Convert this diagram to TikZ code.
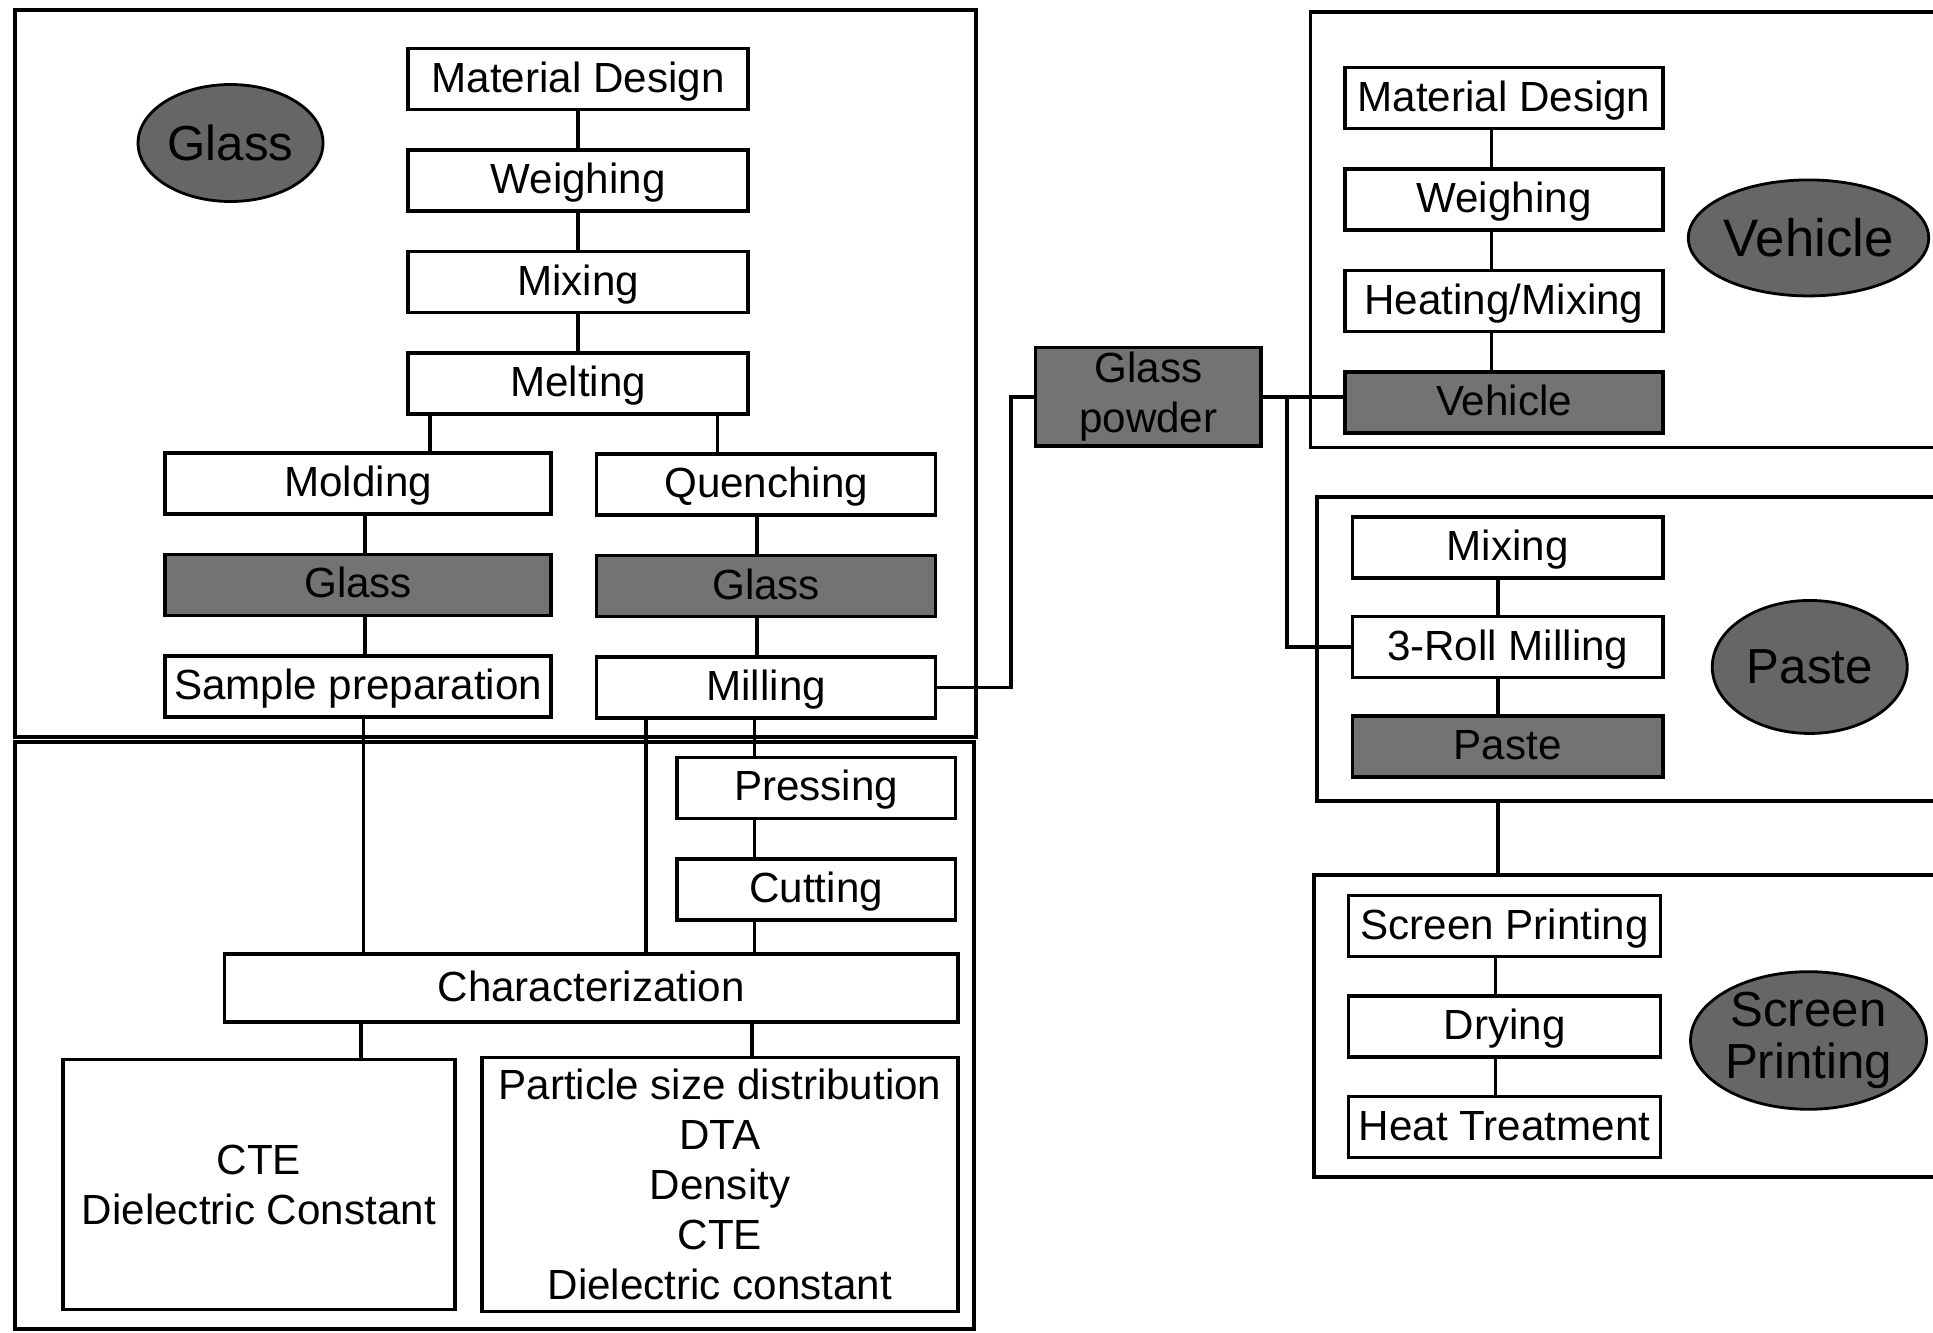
\documentclass[tikz,border=0pt]{standalone}
\usepackage{fontspec}
\setmainfont{Liberation Sans}
\usetikzlibrary{shapes.geometric,positioning}

\begin{document}
\begin{tikzpicture}[
  x=0.024656cm, y=-0.024656cm,
  node distance=0.74cm,
  box/.style={rectangle, draw, line width=2pt, fill=white,
    minimum height=1.22cm, inner xsep=2pt, inner ysep=0pt,
    align=center, font=\fontsize{24}{28.5}\selectfont},
  stepbox/.style={box, text height=17pt, text depth=2pt},
  darkbox/.style={stepbox, fill=black!55},
  tag/.style={ellipse, draw, line width=1.6pt, fill=black!60, inner sep=0pt,
    align=center, font=\fontsize{28}{30}\selectfont},
  frame/.style={line width=2.2pt},
  link/.style={line width=2pt},
]
  \useasboundingbox (0,0) rectangle (1568,1081);

  % Frames
  \draw[frame] (12,8) rectangle (792,598);
  \draw[frame] (12,602) rectangle (790,1078);
  \draw[frame] (1568,10) -| (1063,363) -- (1568,363);
  \draw[frame] (1568,403) -| (1068,650) -- (1568,650);
  \draw[frame] (1568,710) -| (1066,955) -- (1568,955);

  % Glass making
  \node[tag, minimum width=3.70cm, minimum height=2.34cm] (gtag) at (187,116) {Glass};
  \node[stepbox, minimum width=6.80cm] (md) at (469,64) {Material Design};
  \node[stepbox, minimum width=6.80cm, below=of md] (wg) {Weighing};
  \node[stepbox, minimum width=6.80cm, below=of wg] (mx) {Mixing};
  \node[stepbox, minimum width=6.80cm, below=of mx] (mt) {Melting};
  \node[stepbox, minimum width=7.72cm] (mold) at (290.5,392) {Molding};
  \node[stepbox, minimum width=6.78cm] (quen) at (621.5,393) {Quenching};
  \node[darkbox, minimum width=7.72cm, below=of mold] (gl1) {Glass};
  \node[darkbox, minimum width=6.78cm, below=of quen] (gl2) {Glass};
  \node[stepbox, minimum width=7.72cm, below=of gl1] (sp) {Sample preparation};
  \node[stepbox, minimum width=6.78cm, below=of gl2] (mill) {Milling};

  % Characterization
  \node[stepbox, minimum width=5.57cm] (press) at (662,639) {Pressing};
  \node[stepbox, minimum width=5.57cm, below=of press] (cut) {Cutting};
  \node[stepbox, minimum width=14.67cm, minimum height=1.36cm] (char) at (479.5,801.5) {Characterization};
  \node[box, minimum width=7.84cm, minimum height=5.0cm] (res1) at (210,961)
    {CTE\\Dielectric Constant};
  \node[box, minimum width=9.52cm, minimum height=5.08cm] (res2) at (584,961)
    {Particle size distribution\\DTA\\Density\\CTE\\Dielectric constant};

  % Glass powder
  \node[box, fill=black!55, minimum width=4.51cm, minimum height=1.97cm] (gp) at (931.5,322) {Glass\\powder};

  % Vehicle
  \node[tag, minimum width=4.49cm, minimum height=2.32cm, font=\fontsize{30}{32}\selectfont] (vtag) at (1467,193) {Vehicle};
  \node[stepbox, minimum width=6.36cm] (vmd) at (1220,79.5) {Material Design};
  \node[stepbox, minimum width=6.36cm, below=of vmd] (vwg) {Weighing};
  \node[stepbox, minimum width=6.36cm, below=of vwg] (vhm) {Heating/Mixing};
  \node[darkbox, minimum width=6.36cm, below=of vhm] (veh) {Vehicle};

  % Paste
  \node[tag, minimum width=3.90cm, minimum height=2.66cm] (ptag) at (1468,541) {Paste};
  \node[stepbox, minimum width=6.21cm] (pmx) at (1223,444) {Mixing};
  \node[stepbox, minimum width=6.21cm, below=0.70cm of pmx] (roll) {3-Roll Milling};
  \node[darkbox, minimum width=6.21cm, below=0.70cm of roll] (paste) {Paste};

  % Screen printing
  \node[tag, minimum width=4.54cm, minimum height=2.66cm] (stag) at (1467,844) {Screen\\Printing};
  \node[stepbox, minimum width=6.24cm] (spr) at (1220.5,751) {Screen Printing};
  \node[stepbox, minimum width=6.24cm, below=0.72cm of spr] (dry) {Drying};
  \node[stepbox, minimum width=6.24cm, below=0.72cm of dry] (heat) {Heat Treatment};

  \coordinate (pbot) at (1215,650);
  \coordinate (stop) at (1215,710);

  % Connections
  \draw[link] (md) -- (wg);
  \draw[link] (wg) -- (mx);
  \draw[link] (mx) -- (mt);
  \draw[link] (mt.south -| 349,0) -- (mold.north -| 349,0);
  \draw[link] (mt.south -| 582,0) -- (quen.north -| 582,0);
  \draw[link] (mold.south -| 296,0) -- (gl1.north -| 296,0);
  \draw[link] (gl1.south -| 296,0) -- (sp.north -| 296,0);
  \draw[link] (quen.south -| 614,0) -- (gl2.north -| 614,0);
  \draw[link] (gl2.south -| 614,0) -- (mill.north -| 614,0);
  \draw[link] (sp.south -| 295,0) -- (char.north -| 295,0);
  \draw[link] (mill.south -| 524,0) -- (char.north -| 524,0);
  \draw[link] (mill.south -| 612,0) -- (press.north -| 612,0);
  \draw[link] (press.south -| 612,0) -- (cut.north -| 612,0);
  \draw[link] (cut.south -| 612,0) -- (char.north -| 612,0);
  \draw[link] (char.south -| 293,0) -- (res1.north -| 293,0);
  \draw[link] (char.south -| 610,0) -- (res2.north -| 610,0);

  \draw[link] (mill.east) -- (mill.east -| 820,0) |- (gp.west);
  \draw[link] (gp.east) -- (gp.east -| veh.west);
  \draw[link] (gp.east -| 1044,0) |- (roll.west);

  \draw[link] (vmd.south -| 1210,0) -- (vwg.north -| 1210,0);
  \draw[link] (vwg.south -| 1210,0) -- (vhm.north -| 1210,0);
  \draw[link] (vhm.south -| 1210,0) -- (veh.north -| 1210,0);
  \draw[link] (pmx.south -| 1215,0) -- (roll.north -| 1215,0);
  \draw[link] (roll.south -| 1215,0) -- (paste.north -| 1215,0);
  \draw[link] (pbot) -- (stop);
  \draw[link] (spr.south -| 1213,0) -- (dry.north -| 1213,0);
  \draw[link] (dry.south -| 1213,0) -- (heat.north -| 1213,0);
\end{tikzpicture}
\end{document}
